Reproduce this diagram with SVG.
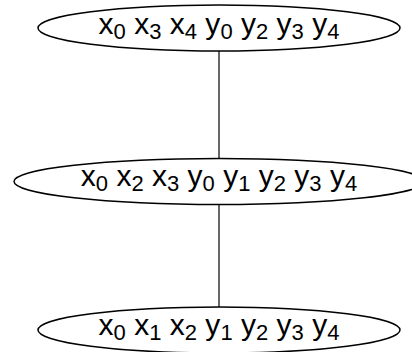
<svg xmlns="http://www.w3.org/2000/svg" width="412" height="352" viewBox="0 0 412 352">
<style>
ellipse{fill:none;stroke:#000;stroke-width:1.5}
line{stroke:#000;stroke-width:1.2}
text{font-family:"Liberation Sans",Arial,sans-serif;font-size:30px;fill:#000;text-anchor:middle}
.s{font-size:22px}
</style>
<rect width="412" height="352" fill="#fff"/>
<g id="edges">
<line x1="219" y1="51" x2="219" y2="158"/>
<line x1="219" y1="205" x2="219" y2="307"/>
</g>
<g id="n1">
<ellipse cx="219" cy="28" rx="181" ry="23"/>
<text x="219" y="34">x<tspan class="s" dy="5">0</tspan><tspan dy="-5"> x</tspan><tspan class="s" dy="5">3</tspan><tspan dy="-5"> x</tspan><tspan class="s" dy="5">4</tspan><tspan dy="-5"> y</tspan><tspan class="s" dy="5">0</tspan><tspan dy="-5"> y</tspan><tspan class="s" dy="5">2</tspan><tspan dy="-5"> y</tspan><tspan class="s" dy="5">3</tspan><tspan dy="-5"> y</tspan><tspan class="s" dy="5">4</tspan></text>
</g>
<g id="n2">
<ellipse cx="219" cy="181.5" rx="205" ry="23"/>
<text x="219" y="186">x<tspan class="s" dy="5">0</tspan><tspan dy="-5"> x</tspan><tspan class="s" dy="5">2</tspan><tspan dy="-5"> x</tspan><tspan class="s" dy="5">3</tspan><tspan dy="-5"> y</tspan><tspan class="s" dy="5">0</tspan><tspan dy="-5"> y</tspan><tspan class="s" dy="5">1</tspan><tspan dy="-5"> y</tspan><tspan class="s" dy="5">2</tspan><tspan dy="-5"> y</tspan><tspan class="s" dy="5">3</tspan><tspan dy="-5"> y</tspan><tspan class="s" dy="5">4</tspan></text>
</g>
<g id="n3">
<ellipse cx="219" cy="330" rx="181" ry="23"/>
<text x="219" y="335">x<tspan class="s" dy="5">0</tspan><tspan dy="-5"> x</tspan><tspan class="s" dy="5">1</tspan><tspan dy="-5"> x</tspan><tspan class="s" dy="5">2</tspan><tspan dy="-5"> y</tspan><tspan class="s" dy="5">1</tspan><tspan dy="-5"> y</tspan><tspan class="s" dy="5">2</tspan><tspan dy="-5"> y</tspan><tspan class="s" dy="5">3</tspan><tspan dy="-5"> y</tspan><tspan class="s" dy="5">4</tspan></text>
</g>
</svg>
